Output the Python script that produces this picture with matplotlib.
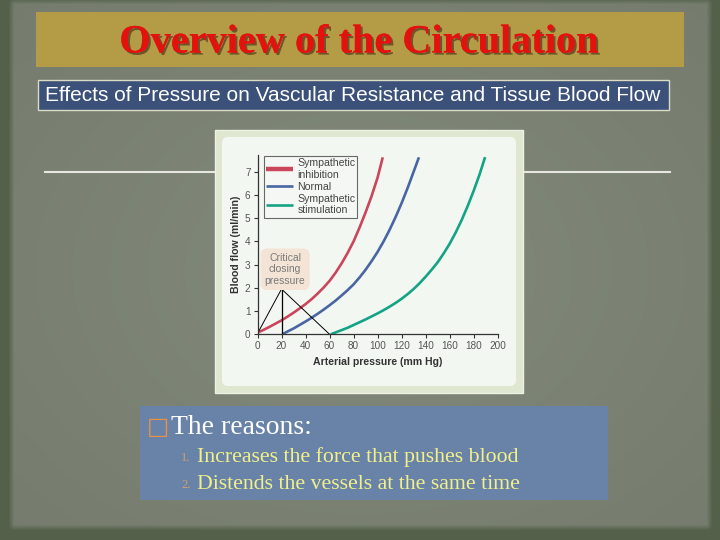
import numpy as np
import matplotlib.pyplot as plt
import matplotlib.patheffects as pe
from matplotlib.patches import Rectangle, FancyBboxPatch

# --- data ---
pressure_inhibition = [0, 5, 10, 15, 20, 25, 30, 35, 40, 45, 50, 55, 60, 65, 70, 75, 80,
                       85, 90, 95, 100, 104.3]
flow_inhibition = [0.07, 0.19, 0.32, 0.46, 0.6, 0.76, 0.93, 1.11, 1.3, 1.51, 1.75, 2.01,
                   2.3, 2.65, 3.05, 3.5, 4.0, 4.6, 5.25, 5.95, 6.75, 7.62]

pressure_normal = [20.6, 25, 30, 35, 40, 45, 50, 55, 60, 65, 70, 75, 80, 85, 90, 95, 100,
                   105, 110, 115, 120, 125, 130, 134.4]
flow_normal = [0, 0.12, 0.25, 0.4, 0.55, 0.71, 0.88, 1.06, 1.25, 1.45, 1.67, 1.9, 2.15,
               2.45, 2.78, 3.15, 3.55, 4.0, 4.5, 5.05, 5.65, 6.3, 7.0, 7.62]

pressure_stimulation = [61, 65, 70, 75, 80, 85, 90, 95, 100, 105, 110, 115, 120, 125, 130,
                        135, 140, 145, 150, 155, 160, 165, 170, 175, 180, 185, 189.5]
flow_stimulation = [0, 0.08, 0.18, 0.28, 0.4, 0.52, 0.64, 0.77, 0.9, 1.04, 1.19, 1.35, 1.53,
                    1.73, 1.95, 2.2, 2.48, 2.78, 3.1, 3.48, 3.9, 4.38, 4.92, 5.52, 6.18,
                    6.9, 7.63]

series_labels = ["Sympathetic\ninhibition", "Normal", "Sympathetic\nstimulation"]
series_colors = ["#c9465c", "#4a65a3", "#14a384"]

# critical closing pressure marker (apex and feet)
ccp_x = [1.1, 20, 60]
ccp_y = [0.14, 1.95, 0]

x_ticks = list(range(0, 201, 20))
y_ticks = list(range(0, 8))

title = "Overview of the Circulation"
subtitle = "Effects of Pressure on Vascular Resistance and Tissue Blood Flow"
reasons_head = "The reasons:"
reasons = ["Increases the force that pushes blood", "Distends the vessels at the same time"]

W, H = 720, 540
fig = plt.figure(figsize=(7.2, 5.4), dpi=100)

# slide background in pixel coordinates
bg = fig.add_axes([0, 0, 1, 1])
bg.set_xlim(0, W)
bg.set_ylim(H, 0)
bg.axis("off")

yy, xx = np.mgrid[0:H, 0:W]
dx = np.maximum(np.maximum(14 - xx, xx - 706), 0)
dy = np.maximum(np.maximum(4 - yy, yy - 524), 0)
edge = np.clip(np.hypot(dx, dy) / 6, 0, 1)
inner = np.array([0.51, 0.54, 0.48])
outer = np.array([0.33, 0.38, 0.29])
glow = 1 - 0.07 * np.hypot((xx - 360) / 360, (yy - 270) / 270)
img = (inner[None, None, :] * glow[..., None]) * (1 - edge[..., None]) + outer * edge[..., None]
bg.imshow(img, extent=(0, W, H, 0), aspect="auto", zorder=0)

# title banner
bg.add_patch(Rectangle((36, 12), 648, 55, fc="#b39c45", ec="none", zorder=1))
bg.text(359, 43, title, ha="center", va="center", fontsize=29, fontweight="bold",
        family="Liberation Serif", color="#e3120f", zorder=2,
        path_effects=[pe.withSimplePatchShadow(offset=(1.5, -1.5), shadow_rgbFace="#4a3a20", alpha=0.7),
                      pe.Normal()])

# subtitle box
bg.add_patch(Rectangle((38, 80), 631, 30, fc="#3b5179", ec="#dcdcc4", lw=1, zorder=1))
bg.text(353, 95.5, subtitle, ha="center", va="center", fontsize=15,
        family="Liberation Sans", color="white", zorder=2)

# white rules beside the picture
bg.plot([45, 215], [172, 172], color="#e6e8e0", lw=1.5, zorder=1)
bg.plot([523, 670], [172, 172], color="#e6e8e0", lw=1.5, zorder=1)

# picture frame
bg.add_patch(Rectangle((215, 130), 308, 263, fc="#dfe7d0", ec="#eef2e4", lw=1, zorder=1))
bg.add_patch(FancyBboxPatch((224, 139), 290, 245, boxstyle="round,pad=2,rounding_size=6",
                            fc="#f3f7f2", ec="none", zorder=1))

# reasons box
bg.add_patch(Rectangle((140, 406), 468, 94, fc="#6983a8", ec="none", zorder=1))
bg.text(147, 427, "\u25a1", ha="left", va="center", fontsize=17, fontweight="bold",
        family="DejaVu Sans", color="#eb9242", zorder=2)
bg.text(171, 427, reasons_head, ha="left", va="center", fontsize=20,
        family="Liberation Serif", color="white", zorder=2)
for i, line in enumerate(reasons):
    y = 457 + i * 27.5
    bg.text(181, y + 1, "%d." % (i + 1), ha="left", va="center", fontsize=9,
            family="Liberation Serif", color="#c9a070", zorder=2)
    bg.text(197, y, line, ha="left", va="center", fontsize=15.7,
            family="Liberation Serif", color="#f2f08a", zorder=2)

# chart
ax = fig.add_axes([257.5 / W, 1 - 334.3 / H, 240.2 / W, (334.3 - 155) / H])
ax.set_facecolor("none")
ax.set_xlim(0, 200)
ax.set_ylim(0, 7.72)

ax.plot(pressure_inhibition, flow_inhibition, color=series_colors[0], lw=1.9,
        label=series_labels[0], solid_capstyle="butt")
ax.plot(pressure_normal, flow_normal, color=series_colors[1], lw=1.9,
        label=series_labels[1], solid_capstyle="butt")
ax.plot(pressure_stimulation, flow_stimulation, color=series_colors[2], lw=1.9,
        label=series_labels[2], solid_capstyle="butt")

ax.plot(ccp_x, ccp_y, color="black", lw=0.7)
ax.plot([ccp_x[1], ccp_x[1]], [ccp_y[1], 0], color="black", lw=0.9)
ax.text(23, 2.8, "Critical\nclosing\npressure", ha="center", va="center", fontsize=7.5,
        color="#7a7a7a", linespacing=1.2, family="Liberation Sans",
        bbox=dict(boxstyle="round,pad=0.4,rounding_size=0.6", fc="#f3e4d6", ec="none"))

leg = ax.legend(loc="upper left", bbox_to_anchor=(0.025, 0.995), borderaxespad=0,
                fancybox=False, frameon=True, handlelength=2.6,
                handletextpad=0.4, labelspacing=0.2, borderpad=0.2,
                prop={"family": "Liberation Sans", "size": 7.6})
leg.get_frame().set_edgecolor("#444444")
leg.get_frame().set_linewidth(0.8)
leg.get_frame().set_facecolor("#f5f8f5")
for txt in leg.get_texts():
    txt.set_color("#444444")
    txt.set_linespacing(1.2)
leg.get_lines()[0].set_linewidth(3.2)

for side in ["top", "right"]:
    ax.spines[side].set_visible(False)
for side in ["left", "bottom"]:
    ax.spines[side].set_color("#333333")
    ax.spines[side].set_linewidth(0.9)

ax.set_xticks(x_ticks)
ax.set_yticks(y_ticks)
ax.tick_params(direction="out", length=3, width=0.8, colors="#333333", labelsize=7.2, pad=2)
for lab in ax.get_xticklabels() + ax.get_yticklabels():
    lab.set_family("Liberation Sans")
    lab.set_color("#555555")

ax.set_xlabel("Arterial pressure (mm Hg)", fontsize=7.6, fontweight="bold",
              family="Liberation Sans", color="#333333", labelpad=4)
ax.set_ylabel("Blood flow (ml/min)", fontsize=7.6, fontweight="bold",
              family="Liberation Sans", color="#333333", labelpad=3)

fig.savefig("out.png", dpi=100)
